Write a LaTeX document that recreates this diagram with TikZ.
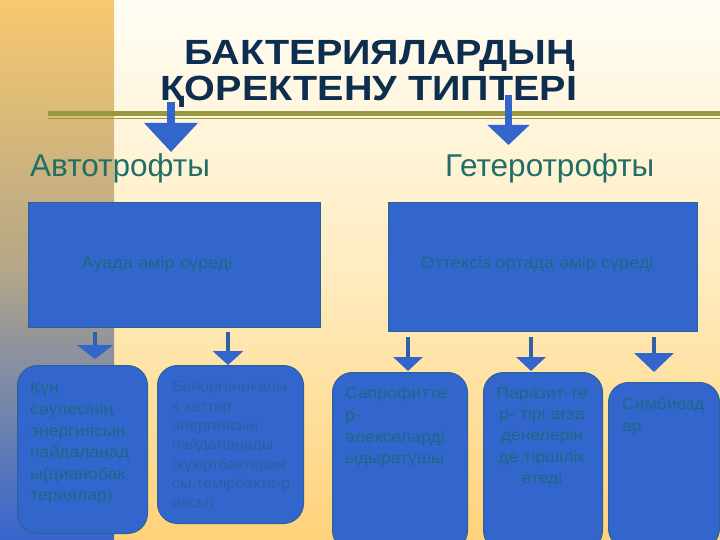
\documentclass[tikz,border=0pt]{standalone}
\usepackage{fontspec}
\setmainfont{Liberation Sans}
\newfontfamily\widefont[FakeStretch=1.1]{Liberation Sans}
\newfontfamily\titlefont[FakeStretch=1.13]{Liberation Sans}
\usetikzlibrary{arrows.meta}
\definecolor{navy}{RGB}{14,46,80}
\definecolor{tealtxt}{RGB}{32,110,104}
\definecolor{boxblue}{RGB}{51,102,204}
\definecolor{boxedge}{RGB}{42,98,150}
\definecolor{boxtxt}{RGB}{28,104,132}
\definecolor{boxtxtlight}{RGB}{38,98,162}
\definecolor{arrowblue}{RGB}{51,102,204}
\definecolor{shaftblue}{RGB}{45,98,165}
\definecolor{olivebar}{RGB}{154,152,62}
\tikzset{
  rectbox/.style={draw=boxedge, line width=1pt, fill=boxblue, rectangle, inner sep=0pt, anchor=north west},
  roundbox/.style={draw=boxedge, line width=1pt, fill=boxblue, rectangle, rounded corners=20pt, inner sep=0pt, anchor=north west},
  bigarrow/.style={line width=8pt, draw=arrowblue},
  smallarrow/.style={line width=4pt, draw=shaftblue},
  boxtext/.style={inner sep=0pt, anchor=north west, align=left, text=boxtxt},
  titletext/.style={inner sep=0pt, anchor=base, text=navy, font=\titlefont\fontsize{35}{40}\selectfont\bfseries},
}
\begin{document}
\begin{tikzpicture}[x=1pt,y=-1pt]
\useasboundingbox (0,0) rectangle (720,540);
\begin{scope}
\clip (0,0) rectangle (720,540);
% background
\shade[top color={rgb,255:red,255;green,253;blue,244}, bottom color={rgb,255:red,255;green,236;blue,192}] (114,0) rectangle (720,271);
\shade[top color={rgb,255:red,255;green,236;blue,192}, bottom color={rgb,255:red,255;green,210;blue,122}] (114,270) rectangle (720,540);
\shade[top color={rgb,255:red,247;green,200;blue,110}, bottom color={rgb,255:red,180;green,166;blue,136}] (0,0) rectangle (114,271);
\shade[top color={rgb,255:red,180;green,166;blue,136}, middle color={rgb,255:red,128;green,136;blue,168}, bottom color={rgb,255:red,56;green,100;blue,206}] (0,270) rectangle (114,540);
% olive double rule
\fill[olivebar] (48,111) rectangle (720,116);
\fill[olivebar] (48,117.6) rectangle (720,119.2);

% title
\node[titletext] (title1) at (380,65) {БАКТЕРИЯЛАРДЫҢ};
\node[titletext] (title2) at (369,101) {ҚОРЕКТЕНУ ТИПТЕРІ};

% categories
\node[inner sep=0pt, anchor=base west, text=tealtxt, font=\fontsize{31.5}{36}\selectfont] (auto) at (30,177) {Автотрофты};
\node[inner sep=0pt, anchor=base west, text=tealtxt, font=\fontsize{31.5}{36}\selectfont] (hetero) at (445,177) {Гетеротрофты};

% big arrows
\coordinate (a1s) at (171,102);
\coordinate (a1e) at (171,152);
\coordinate (a2s) at (508.5,95);
\coordinate (a2e) at (508.5,145);
\draw[bigarrow, -{Triangle[width=52pt,length=29pt,color=arrowblue]}] (a1s) -- (a1e);
\draw[bigarrow, line width=7pt, -{Triangle[width=41pt,length=20pt,color=arrowblue]}] (a2s) -- (a2e);

% top rectangles
\node[rectbox, minimum width=292pt, minimum height=125pt] (air) at (28,202) {};
\node[rectbox, minimum width=309pt, minimum height=129pt] (anaer) at (388,202) {};
\node[inner sep=0pt, anchor=base, text=boxtxt, font=\widefont\fontsize{16.5}{19}\selectfont] (airt) at (157,268) {Ауада әмір сүреді};
\node[inner sep=0pt, anchor=base, text=boxtxt, font=\widefont\fontsize{16.5}{19}\selectfont] (anaert) at (537,268) {Оттексіз ортада әмір сүреді};

% bottom rounded boxes
\node[roundbox, minimum width=130pt, minimum height=168pt] (b1) at (17,365) {};
\node[roundbox, minimum width=146pt, minimum height=158pt] (b2) at (157,365) {};
\node[roundbox, minimum width=135pt, minimum height=178pt] (b3) at (332,372) {};
\node[roundbox, minimum width=119pt, minimum height=178pt] (b4) at (483,372) {};
\node[roundbox, minimum width=111pt, minimum height=166pt] (b5) at (608,382) {};

% small arrows
\coordinate (s1s) at (95,332);  \coordinate (s1e) at (95,359);
\coordinate (s2s) at (228,332); \coordinate (s2e) at (228,365);
\coordinate (s3s) at (408,337); \coordinate (s3e) at (408,371);
\coordinate (s4s) at (531,337); \coordinate (s4e) at (531,371);
\coordinate (s5s) at (654,337); \coordinate (s5e) at (654,372);
\draw[smallarrow, -{Triangle[width=36pt,length=14pt,color=arrowblue]}] (s1s) -- (s1e);
\draw[smallarrow, -{Triangle[width=30pt,length=14pt,color=arrowblue]}] (s2s) -- (s2e);
\draw[smallarrow, -{Triangle[width=29pt,length=14pt,color=arrowblue]}] (s3s) -- (s3e);
\draw[smallarrow, -{Triangle[width=29pt,length=14pt,color=arrowblue]}] (s4s) -- (s4e);
\draw[smallarrow, -{Triangle[width=39pt,length=19pt,color=arrowblue]}] (s5s) -- (s5e);

% box texts
\node[boxtext, font=\widefont\fontsize{16}{21.5}\selectfont] (t1) at (30,382) {Күн\\сәулесінің\\энергиясын\\пайдаланад\\ы(цианобак\\териялар)};
\node[boxtext, text=boxtxtlight, font=\widefont\fontsize{14.5}{19.3}\selectfont] (t2) at (172,381) {Бейорганикалы\\қ заттар\\энергиясын\\пайдаланады\\(күкіртбактерия\\сы,темірбакте-р\\иясы)};
\node[boxtext, font=\widefont\fontsize{16}{21.7}\selectfont] (t3) at (345,387) {Сапрофитте\\р-\\әлекселарді\\ыдыратушы};
\node[boxtext, anchor=north, align=center, font=\widefont\fontsize{16}{21.3}\selectfont] (t4) at (542,387) {Паразит-те\\р- тірі ағза\\денелерін\\де тіршілік\\етеді};
\node[boxtext, font=\widefont\fontsize{16}{21.5}\selectfont] (t5) at (622,398) {Симбиозд\\ар};
\end{scope}
\end{tikzpicture}
\end{document}
